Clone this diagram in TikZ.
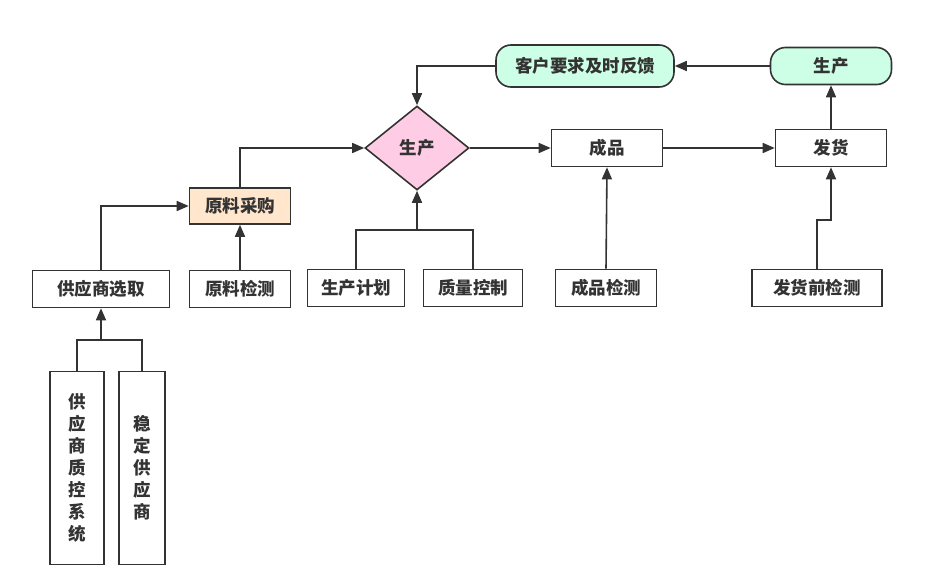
\documentclass[tikz,border=0pt]{standalone}
\usepackage{fontspec}
\setmainfont{Noto Sans CJK SC}
\usetikzlibrary{shapes.geometric,arrows.meta}
\definecolor{linegray}{HTML}{333333}
\definecolor{mint}{HTML}{CCFFE6}
\definecolor{pinkfill}{HTML}{FFCCE6}
\definecolor{peach}{HTML}{FFE6CC}
\begin{document}
\begin{tikzpicture}[x=1pt, y=-1pt,
		box/.style={draw=linegray, line width=1.6pt, rectangle, minimum height=37pt, inner sep=2pt, font=\bfseries\fontsize{17.5}{20}\selectfont, text=linegray},
		tallbox/.style={box, align=center, font=\bfseries\fontsize{17.5}{22}\selectfont},
		flow/.style={draw=linegray, line width=1.6pt, -{Triangle[length=12pt, width=10pt]}},
		link/.style={draw=linegray, line width=1.6pt}]
	\useasboundingbox (0,0) rectangle (931,578);

	% Top row
	\node[box, minimum width=178pt, minimum height=42pt, rounded corners=15pt, fill=mint] (feedback) at (585,66) {客户要求及时反馈};
	\node[box, minimum width=121pt, rounded corners=15pt, fill=mint] (prodtop) at (831,66) {生产};

	% Main line
	\node[draw=linegray, line width=1.6pt, diamond, minimum width=104pt, minimum height=84pt, inner sep=0pt, fill=pinkfill, font=\bfseries\fontsize{17.5}{20}\selectfont, text=linegray] (prod) at (417,148) {生产};
	\node[box, minimum width=111pt] (goods) at (607,148) {成品};
	\node[box, minimum width=111pt] (ship) at (831,148) {发货};
	\node[box, minimum width=101pt, minimum height=36pt, fill=peach] (purchase) at (240,206) {原料采购};

	% Bottom row
	\node[box, minimum width=137pt] (select) at (101,289) {供应商选取};
	\node[box, minimum width=101pt] (rawcheck) at (240,289) {原料检测};
	\node[box, minimum width=97pt] (plan) at (356,288) {生产计划};
	\node[box, minimum width=99pt] (quality) at (473,288) {质量控制};
	\node[box, minimum width=101pt] (goodscheck) at (606,288) {成品检测};
	\node[box, minimum width=130pt] (precheck) at (817,288) {发货前检测};

	% Suppliers
	\node[tallbox, minimum width=54pt, minimum height=193pt] (qcsys) at (77,468) {供\\应\\商\\质\\控\\系\\统};
	\node[tallbox, minimum width=46pt, minimum height=193pt] (stable) at (142,468) {稳\\定\\供\\应\\商};

	\coordinate (planjoin) at (417,230);
	\coordinate (supjoin) at (101,340);
	\coordinate (shipjog) at (831,220);

	\draw[flow] (feedback.west) -| (prod.north);
	\draw[flow] (prodtop.west) -- (feedback.east);
	\draw[flow] (ship.north) -- (prodtop.south);
	\draw[flow] (prod.east) -- (goods.west);
	\draw[flow] (goods.east) -- (ship.west);
	\draw[flow] (purchase.north) |- (prod.west);
	\draw[flow] (select.north) |- (purchase.west);
	\draw[flow] (rawcheck.north) -- (purchase.south);
	\draw[link] (plan.north) |- (planjoin);
	\draw[link] (quality.north) |- (planjoin);
	\draw[flow] (planjoin) -- (prod.south);
	\draw[flow] (goodscheck.north) -- (goods.south);
	\draw[flow] (precheck.north) |- (shipjog) -- (ship.south);
	\draw[link] (qcsys.north) |- (supjoin);
	\draw[link] (stable.north) |- (supjoin);
	\draw[flow] (supjoin) -- (select.south);
\end{tikzpicture}
\end{document}
